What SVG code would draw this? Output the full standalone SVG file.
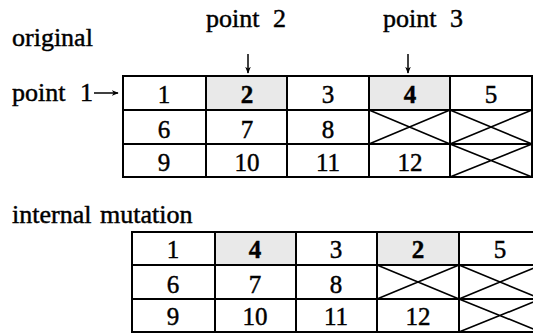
<svg xmlns="http://www.w3.org/2000/svg" width="533" height="335" viewBox="0 0 533 335">
  <style>
    text { font-family: "Liberation Serif", "Times New Roman", serif; fill: #000; stroke: #000; stroke-width: 0.45; }
    .lbl { font-size: 26px; }
    .num { font-size: 25px; text-anchor: middle; }
    .b { font-weight: bold; }
    .grid { fill: none; stroke: #000; stroke-width: 2; }
    .x { stroke: #000; stroke-width: 1.6; fill: none; }
    .shade { fill: #e9e9e9; }
    .arr { stroke: #000; stroke-width: 1.5; fill: none; }
  </style>
  <defs>
    <marker id="head" viewBox="0 0 10 10" refX="9" refY="5" markerWidth="7" markerHeight="7" markerUnits="userSpaceOnUse" orient="auto">
      <path d="M0,1 L10,5 L0,9 L3,5 Z" fill="#000"/>
    </marker>
  </defs>

  <rect width="533" height="335" fill="#fff"/>

  <!-- headings -->
  <g id="labels">
    <text class="lbl" x="12" y="46">original</text>
    <text class="lbl" x="206" y="27">point<tspan x="273">2</tspan></text>
    <text class="lbl" x="383" y="27">point<tspan x="450">3</tspan></text>
    <text class="lbl" x="12" y="101">point<tspan x="80">1</tspan></text>
    <text class="lbl" x="12" y="223">internal<tspan x="100">mutation</tspan></text>
  </g>

  <!-- pointer arrows -->
  <g id="connectors">
    <line class="arr" x1="248" y1="54" x2="248" y2="73" marker-end="url(#head)"/>
    <line class="arr" x1="408" y1="54" x2="408" y2="73" marker-end="url(#head)"/>
    <line class="arr" x1="94" y1="93" x2="118" y2="93" marker-end="url(#head)"/>
  </g>

  <!-- chromosome before mutation -->
  <g id="original">
    <rect class="shade" x="206" y="77" width="81" height="33"/>
    <rect class="shade" x="369" y="77" width="81" height="33"/>
    <path class="x" d="M369,110 L450,144 M369,144 L450,110 M450,110 L532,144 M450,144 L532,110 M450,144 L532,177 M450,177 L532,144"/>
    <path class="grid" d="M123,76 H532 V177 H123 Z M123,110 H532 M123,144 H532 M206,76 V177 M287,76 V177 M369,76 V177 M450,76 V177"/>
    <text class="num" x="164" y="103">1</text>
    <text class="num b" x="247" y="103">2</text>
    <text class="num" x="328" y="103">3</text>
    <text class="num b" x="410" y="103">4</text>
    <text class="num" x="491" y="103">5</text>
    <text class="num" x="164" y="138">6</text>
    <text class="num" x="247" y="138">7</text>
    <text class="num" x="328" y="138">8</text>
    <text class="num" x="164" y="171">9</text>
    <text class="num" x="247" y="171">10</text>
    <text class="num" x="328" y="171">11</text>
    <text class="num" x="410" y="171">12</text>
  </g>

  <!-- chromosome after internal mutation -->
  <g id="mutated">
    <rect class="shade" x="215" y="233" width="81" height="32"/>
    <rect class="shade" x="377" y="233" width="82" height="32"/>
    <path class="x" d="M377,265 L459,299 M377,299 L459,265 M459,265 L541,299 M459,299 L541,265 M459,299 L541,332 M459,332 L541,299"/>
    <path class="grid" d="M132,232 H541 V332 H132 Z M132,265 H541 M132,299 H541 M215,232 V332 M296,232 V332 M377,232 V332 M459,232 V332"/>
    <text class="num" x="173" y="258">1</text>
    <text class="num b" x="255" y="258">4</text>
    <text class="num" x="336" y="258">3</text>
    <text class="num b" x="418" y="258">2</text>
    <text class="num" x="500" y="258">5</text>
    <text class="num" x="173" y="293">6</text>
    <text class="num" x="255" y="293">7</text>
    <text class="num" x="336" y="293">8</text>
    <text class="num" x="173" y="325">9</text>
    <text class="num" x="255" y="325">10</text>
    <text class="num" x="336" y="325">11</text>
    <text class="num" x="418" y="325">12</text>
  </g>
</svg>
